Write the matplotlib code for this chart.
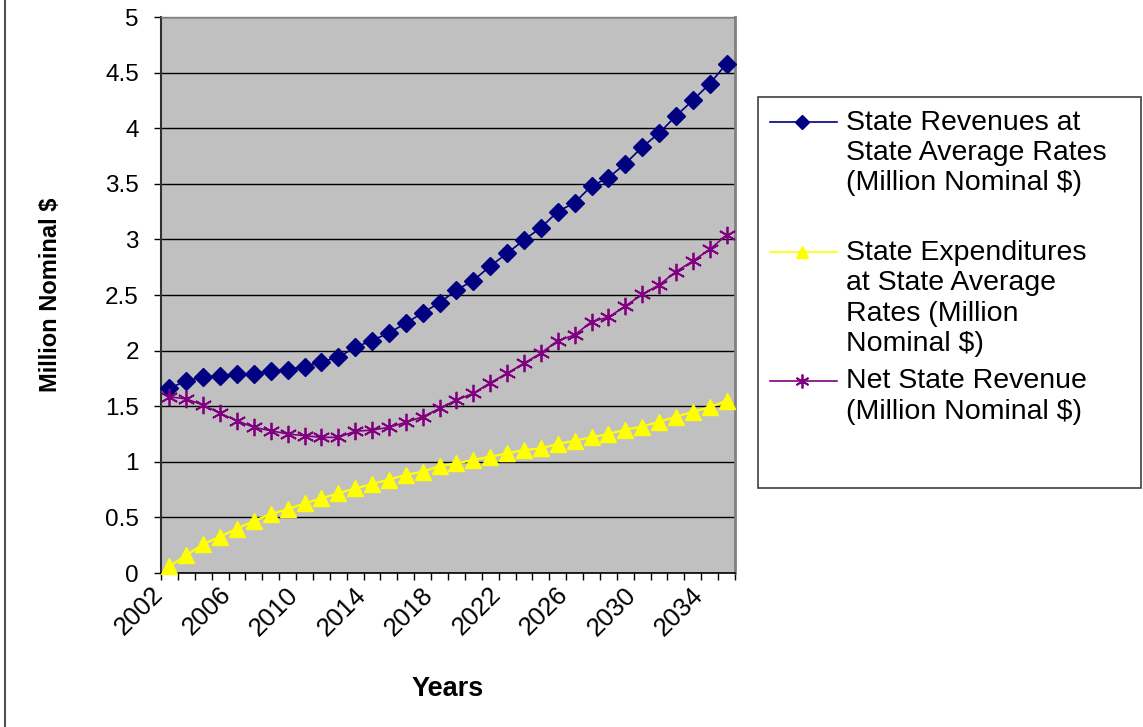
import matplotlib.pyplot as plt
import matplotlib.transforms as mtransforms
import numpy as np
from matplotlib.lines import Line2D
from matplotlib.patches import Rectangle

plt.rcParams['font.family'] = ['Liberation Sans', 'DejaVu Sans']

years = list(range(2002, 2036))

revenues = [1.66, 1.73, 1.76, 1.77, 1.787, 1.79, 1.82, 1.83, 1.855, 1.90,
            1.94, 2.03, 2.09, 2.16, 2.245, 2.34, 2.43, 2.545, 2.63, 2.76,
            2.875, 2.995, 3.105, 3.25, 3.33, 3.48, 3.555, 3.68, 3.83, 3.955,
            4.11, 4.25, 4.40, 4.58]

expenditures = [0.06, 0.16, 0.26, 0.327, 0.40, 0.468, 0.53, 0.573, 0.627, 0.67,
                0.717, 0.76, 0.80, 0.84, 0.884, 0.91, 0.962, 0.986, 1.016, 1.046,
                1.076, 1.106, 1.12, 1.16, 1.19, 1.22, 1.25, 1.29, 1.316, 1.36,
                1.405, 1.45, 1.49, 1.55]

net_revenue = [1.585, 1.565, 1.51, 1.436, 1.37, 1.31, 1.28, 1.25, 1.235, 1.22,
               1.22, 1.275, 1.285, 1.31, 1.355, 1.405, 1.48, 1.556, 1.616, 1.71,
               1.796, 1.886, 1.976, 2.09, 2.14, 2.26, 2.30, 2.40, 2.506, 2.59,
               2.71, 2.806, 2.91, 3.04]

series_labels = ["State Revenues at\nState Average Rates\n(Million Nominal $)",
                 "State Expenditures\nat State Average\nRates (Million\nNominal $)",
                 "Net State Revenue\n(Million Nominal $)"]

yticks = [0, 0.5, 1, 1.5, 2, 2.5, 3, 3.5, 4, 4.5, 5]

W, H = 1143, 727
fig = plt.figure(figsize=(W / 100, H / 100), dpi=100)
ax = fig.add_axes([161 / W, 1 - 573 / H, (735 - 161) / W, (573 - 17) / H])

x = np.arange(len(years))
colors = ['#000080', '#ffff00', '#800080']
markers = [
    dict(marker='D', markersize=9, markerfacecolor='#000080', markeredgecolor='#000080'),
    dict(marker='^', markersize=11, markerfacecolor='#ffff00', markeredgecolor='#ffff00'),
    dict(marker=(6, 2, 0), markersize=12.5, markeredgewidth=1.3, markeredgecolor='#800080'),
]
widths = [1.2, 1.6, 1.2]
for vals, c, mk, lw in zip([revenues, expenditures, net_revenue], colors, markers, widths):
    ax.plot(x, vals, color=c, lw=lw, zorder=3, clip_on=False, **mk)

ax.set_facecolor('#c0c0c0')
ax.set_xlim(-0.5, len(years) - 0.5)
ax.set_ylim(0, 5)
ax.set_yticks(yticks)
ax.set_yticklabels([f"{v:g}" for v in yticks], fontsize=17.5)
ax.yaxis.grid(True, color='black', lw=1.0)
ax.set_axisbelow(True)
ax.tick_params(axis='y', direction='out', length=5, width=1, pad=11)

# labels every fourth year, tick marks between categories
ax.set_xticks(x[::4])
ax.set_xticklabels([str(y) for y in years[::4]], fontsize=18.5,
                   rotation=45, ha='right', va='center', rotation_mode='anchor')
ax.set_xticks(np.arange(-0.5, len(years)), minor=True)
ax.tick_params(axis='x', which='major', length=0, pad=13)
ax.tick_params(axis='x', which='minor', direction='out', length=5, width=1)
shift = mtransforms.ScaledTranslation(-0.10, 0, fig.dpi_scale_trans)
for lab in ax.get_xticklabels():
    lab.set_transform(lab.get_transform() + shift)

ax.spines['left'].set_color('#303030')
ax.spines['left'].set_linewidth(1.5)
ax.spines['bottom'].set_color('black')
ax.spines['bottom'].set_linewidth(1.2)
ax.spines['right'].set_color('#808080')
ax.spines['right'].set_linewidth(2)
ax.spines['top'].set_color('#808080')
ax.spines['top'].set_linewidth(1)

ax.set_ylabel("Million Nominal $", fontsize=17, fontweight='bold')
ax.yaxis.set_label_coords(-0.172, 0.5)
ax.set_xlabel("Years", fontsize=19.5, fontweight='bold')
ax.xaxis.set_label_coords(0.5, -0.185)

# outer chart border
fig.add_artist(Line2D([5 / W, 5 / W], [0, 1], color='#505050', lw=1.5))

# legend box drawn by hand
fig.add_artist(Rectangle((758 / W, 1 - 488 / H), (1141 - 758) / W, (488 - 97) / H,
                         facecolor='white', edgecolor='#404040', lw=1.2))
key_y = [122, 252, 381]
text_y = [129.5, 260, 388.5]
for c, mk, lab, ky, ty in zip(colors, markers, series_labels, key_y, text_y):
    yk = 1 - ky / H
    fig.add_artist(Line2D([770 / W, 837 / W], [yk, yk], color=c, lw=1.2))
    kmk = dict(mk)
    kmk['markersize'] = mk['markersize'] * 0.8
    fig.add_artist(Line2D([802 / W], [yk], color=c, lw=0, **kmk))
    for i, line in enumerate(lab.split("\n")):
        fig.text(846 / W, 1 - (ty + i * 30.3) / H, line, fontsize=20.5, va='baseline')

fig.savefig('out.png', dpi=100)
